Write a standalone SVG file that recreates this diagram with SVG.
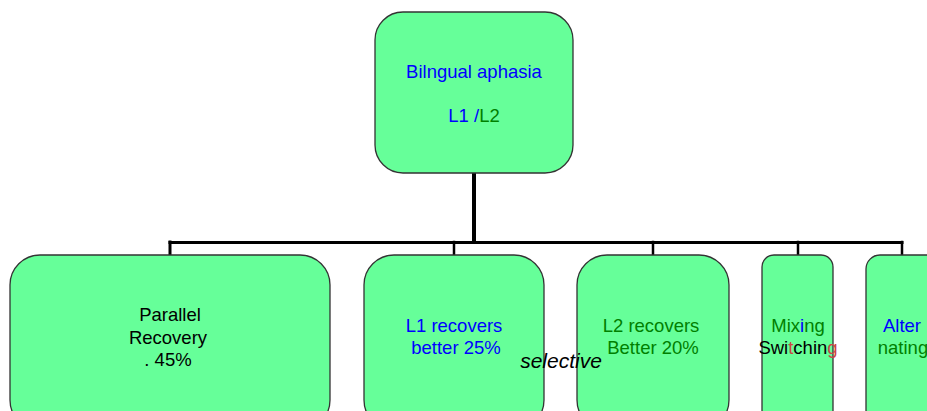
<svg xmlns="http://www.w3.org/2000/svg" width="927" height="411" viewBox="0 0 927 411">
<style>
.box{fill:#66FF99;stroke:#333;stroke-width:1.3}
.t{font-family:"Liberation Sans",Arial,sans-serif;font-size:18.5px;text-anchor:middle}
.b{fill:#0000FF}.g{fill:#008000}.k{fill:#000}.r{fill:#CC4444}
.ln{stroke:#000;fill:none;stroke-linecap:square}
</style>
<rect width="927" height="411" fill="#fff"/>
<g id="connectors">
<line class="ln" x1="474" y1="173" x2="474" y2="242" stroke-width="4"/>
<line class="ln" x1="170" y1="242.5" x2="902" y2="242.5" stroke-width="3"/>
<line class="ln" x1="170" y1="242" x2="170" y2="254" stroke-width="3"/>
<line class="ln" x1="454" y1="242" x2="454" y2="254" stroke-width="2.5"/>
<line class="ln" x1="653" y1="242" x2="653" y2="254" stroke-width="2.5"/>
<line class="ln" x1="798" y1="242" x2="798" y2="254" stroke-width="2.5"/>
<line class="ln" x1="902" y1="242" x2="902" y2="254" stroke-width="2.5"/>
</g>
<g id="root">
<rect class="box" x="375" y="12" width="198" height="161" rx="28"/>
<text class="t b" x="474" y="78">Bilngual aphasia</text>
<text class="t" x="474" y="122"><tspan class="b">L1 /</tspan><tspan class="g">L2</tspan></text>
</g>
<g id="parallel">
<rect class="box" x="10" y="255" width="320" height="175" rx="30"/>
<text class="t k" x="170" y="321">Parallel</text>
<text class="t k" x="168" y="344">Recovery</text>
<text class="t k" x="168" y="366">. 45%</text>
</g>
<g id="l1">
<rect class="box" x="364" y="255" width="180" height="175" rx="30"/>
<text class="t b" x="454" y="332">L1 recovers</text>
<text class="t b" x="456" y="354">better 25%</text>
</g>
<g id="l2">
<rect class="box" x="577" y="255" width="152" height="175" rx="30"/>
<text class="t g" x="651" y="332">L2 recovers</text>
<text class="t g" x="653" y="354">Better 20%</text>
</g>
<g id="mixing">
<rect class="box" x="762" y="255" width="71" height="175" rx="12"/>
<text class="t" x="798" y="332"><tspan class="g">Mix</tspan><tspan class="b">i</tspan><tspan class="g">ng</tspan></text>
<text class="t" x="798" y="354"><tspan class="k">Swi</tspan><tspan class="r">t</tspan><tspan class="k">chin</tspan><tspan class="r">g</tspan></text>
</g>
<g id="alternating">
<rect class="box" x="866" y="255" width="80" height="175" rx="14"/>
<text class="t b" x="902" y="332">Alter</text>
<text class="t g" x="903" y="354">nating</text>
</g>
<text id="selective" x="561" y="368" font-family="'Liberation Sans',Arial,sans-serif" font-size="21" font-style="italic" text-anchor="middle" fill="#000">selective</text>
</svg>
